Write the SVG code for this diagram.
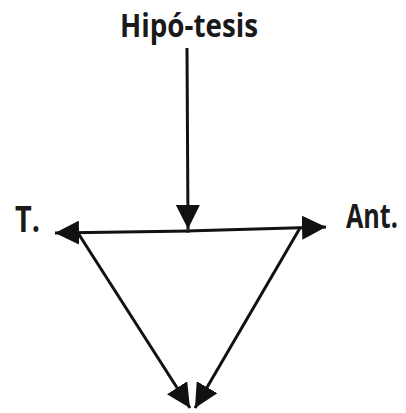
<svg xmlns="http://www.w3.org/2000/svg" width="406" height="413" viewBox="0 0 406 413">
<defs>
<marker id="ah" viewBox="0 0 10 10" refX="10" refY="5" markerWidth="8" markerHeight="8" markerUnits="strokeWidth" orient="auto">
<path d="M0,0 L10,5 L0,10 z" fill="#111"/>
</marker>
</defs>
<style>
.lbl{font-family:"Open Sans","Liberation Sans",sans-serif;font-weight:bold;fill:#1a1a1a}
.c{stroke:#111;stroke-width:3;fill:none;marker-end:url(#ah)}
</style>
<rect width="406" height="413" fill="#fff"/>
<g id="connectors">
<line class="c" x1="187" y1="48" x2="188" y2="229"/>
<line class="c" x1="190" y1="231" x2="55" y2="233"/>
<line class="c" x1="186" y1="231" x2="326" y2="227"/>
<line class="c" x1="78" y1="233" x2="190" y2="408"/>
<line class="c" x1="300" y1="228" x2="195" y2="408"/>
</g>
<g id="hipotesis"><text class="lbl" x="189" y="37" font-size="33" text-anchor="middle" textLength="138" lengthAdjust="spacingAndGlyphs">Hipó-tesis</text></g>
<g id="t"><text class="lbl" x="15" y="232" font-size="36" textLength="25" lengthAdjust="spacingAndGlyphs">T.</text></g>
<g id="ant"><text class="lbl" transform="translate(346,228) scale(0.74,1)" x="0" y="0" font-size="34">Ant.</text></g>
</svg>
